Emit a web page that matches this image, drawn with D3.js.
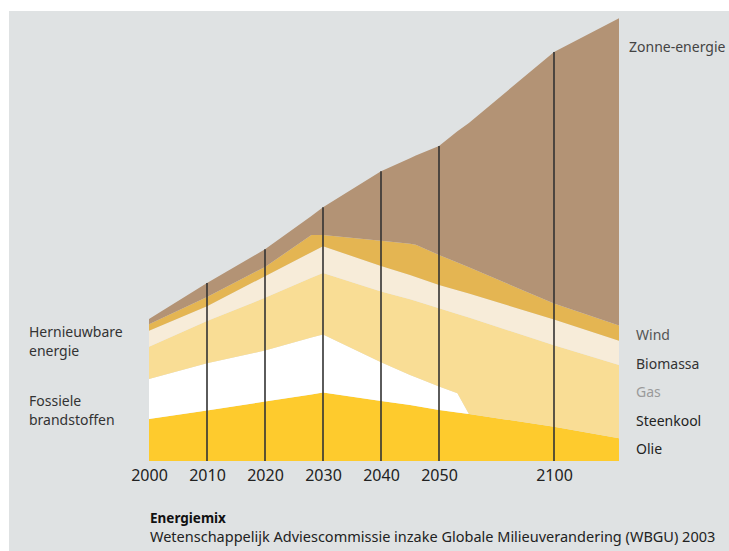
<!DOCTYPE html>
<html>
<head>
<meta charset="utf-8">
<script src="https://cdn.jsdelivr.net/npm/d3@7"></script>
<style>
  body { margin: 0; background: #fff; }
  text { font-family: "Noto Sans", "Open Sans", sans-serif; }
</style>
</head>
<body>
<div id="chart"></div>
<script>
var years     = [2000, 2010, 2020, 2028, 2030, 2040, 2045, 2046, 2050, 2058, 2063, 2100, 2130]
var olie      = [140, 168, 198, 222, 228, 200, 187, 183, 170, 162, 157, 114, 76]
var steenkool = [133, 158, 170, 190, 194, 129, 100, 96, 78, 64, 0, 0, 0]
var gas       = [108, 141, 176, 199, 205, 236, 252, 254, 261, 264, 321, 272, 244]
var biomassa  = [53, 49, 72, 85, 89, 85, 81, 80, 78, 79, 80, 86, 81]
var wind      = [22, 31, 31, 57, 37, 84, 104, 108, 100, 93, 88, 53, 51]
var zonne     = [17, 46, 59, 64, 93, 232, 285, 297, 363, 437, 481, 838, 1024]

var keys = ["Olie", "Steenkool", "Gas", "Biomassa", "Wind", "Zonne-energie"]
var colors = ["#fecb2d", "#ffffff", "#f9dd95", "#f7ecd9", "#e4b552", "#b39375"]
var tickYears = [2000, 2010, 2020, 2030, 2040, 2050, 2100]
var lineYears = [2010, 2020, 2030, 2040, 2050, 2100]

var width = 729, height = 551

var rows = years.map(function(y, i) {
  return { year: y, "Olie": olie[i], "Steenkool": steenkool[i], "Gas": gas[i],
           "Biomassa": biomassa[i], "Wind": wind[i], "Zonne-energie": zonne[i] }
})

var svg = d3.select("#chart").append("svg")
  .attr("width", width).attr("height", height)

svg.append("rect").attr("x", 9).attr("y", 11)
  .attr("width", width - 9).attr("height", height - 11)
  .attr("fill", "#dfe2e3")

// x-as is niet lineair: na 2050 samengedrukt
var x = d3.scaleLinear().domain([2000, 2050, 2100, 2130]).range([149, 439, 554, 619])
var y = d3.scaleLinear().domain([0, 1500]).range([461, 11])

var series = d3.stack().keys(keys)(rows)

var area = d3.area()
  .x(function(d) { return x(d.data.year) })
  .y0(function(d) { return y(d[0]) })
  .y1(function(d) { return y(d[1]) })

svg.selectAll(".layer").data(series).enter().append("path")
  .attr("class", "layer")
  .attr("d", area)
  .attr("fill", function(d, i) { return colors[i] })

var totals = {}
rows.forEach(function(r) { totals[r.year] = d3.sum(keys, function(k) { return r[k] }) })

svg.selectAll(".vline").data(lineYears).enter().append("line")
  .attr("class", "vline")
  .attr("x1", function(d) { return x(d) }).attr("x2", function(d) { return x(d) })
  .attr("y1", y(0)).attr("y2", function(d) { return y(totals[d]) })
  .style("stroke", "#333")
  .style("stroke-width", "1.6px")

var axis = svg.append("g").attr("transform", "translate(0," + y(0) + ")")
  .call(d3.axisBottom(x).tickValues(tickYears).tickFormat(d3.format("d")).tickSize(0).tickPadding(9))
axis.select(".domain").remove()
axis.selectAll("text")
  .style("font-family", "'Noto Sans', sans-serif")
  .style("font-size", "16px")
  .attr("fill", "#222")

// labels rechts
var rightLabels = [
  { text: "Zonne-energie", y: 52, color: "#444" },
  { text: "Wind", y: 340, color: "#555" },
  { text: "Biomassa", y: 369, color: "#333" },
  { text: "Gas", y: 397, color: "#9a9a9a" },
  { text: "Steenkool", y: 426, color: "#222" },
  { text: "Olie", y: 454, color: "#222" }
]
svg.selectAll(".rlabel").data(rightLabels).enter().append("text")
  .attr("class", "rlabel")
  .attr("x", function(d, i) { return i == 0 ? 629 : 636 })
  .attr("y", function(d) { return d.y })
  .style("font-size", "14px")
  .attr("fill", function(d) { return d.color })
  .text(function(d) { return d.text })

var leftLabels = [
  { text: "Hernieuwbare", y: 337 },
  { text: "energie", y: 356 },
  { text: "Fossiele", y: 406 },
  { text: "brandstoffen", y: 425 }
]
svg.selectAll(".llabel").data(leftLabels).enter().append("text")
  .attr("class", "llabel")
  .attr("x", 29)
  .attr("y", function(d) { return d.y })
  .style("font-size", "14px")
  .attr("fill", "#333")
  .text(function(d) { return d.text })

svg.append("text").attr("x", 150).attr("y", 523)
  .style("font-size", "13.5px").style("font-weight", "bold").attr("fill", "#111")
  .text("Energiemix")
svg.append("text").attr("x", 150).attr("y", 542)
  .style("font-size", "14.5px").attr("fill", "#222")
  .text("Wetenschappelijk Adviescommissie inzake Globale Milieuverandering (WBGU) 2003")
</script>
</body>
</html>
